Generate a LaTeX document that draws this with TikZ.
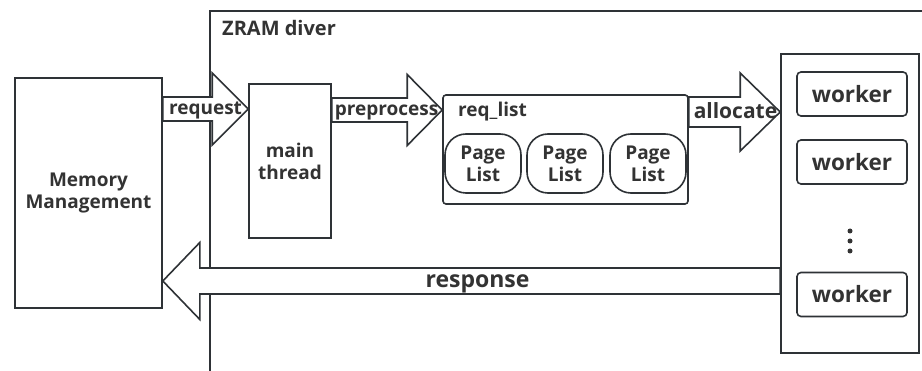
\documentclass[tikz,border=0pt]{standalone}
\usepackage{fontspec}
\setmainfont{Open Sans}
\usetikzlibrary{calc}
\definecolor{ink}{HTML}{2E3236}
\definecolor{txt}{HTML}{333333}

% horizontal block arrow: #1 start point, #2 tip point,
% #3 half shaft width, #4 half head width, #5 head length
\newcommand\blockarrow[5]{%
  \draw[bigarrow] let \p1=(#1), \p2=(#2), \n1={sign(\x2-\x1)*#5} in
    (\x1,\y1+#3) -- ({\x2-(\n1)},\y1+#3) -- ({\x2-(\n1)},\y1+#4) -- (\x2,\y1)
    -- ({\x2-(\n1)},\y1-#4) -- ({\x2-(\n1)},\y1-#3) -- (\x1,\y1-#3) -- cycle;}
\newcommand\fs[1]{\fontsize{#1}{22}\selectfont}

\begin{document}
\begin{tikzpicture}[x=1pt,y=-1pt,
  every node/.style={text=txt,font=\bfseries\fs{19}},
  box/.style={draw=ink,line width=1.6pt,fill=white,inner sep=0pt,align=center},
  bigarrow/.style={draw=ink,line width=1.6pt,fill=white,line join=miter},
  lbl/.style={inner sep=0pt},
  arrlbl/.style={inner sep=0pt,anchor=base}]
\useasboundingbox (0,0) rectangle (922,371);

% driver frame, running off the right and bottom
\draw[ink,line width=1.6pt] (922,11) -- (210,11) -- (210,371);
\node[lbl,anchor=west,font=\bfseries\fs{20}] (drv) at (222,28) {ZRAM diver};

% named boxes
\node[box,minimum width=147pt,minimum height=230pt] (mm) at (88.5,193)
  {Memory\\Management};
\node[box,minimum width=82pt,minimum height=154pt] (main) at (290,161)
  {main\\thread};
\node[box,rounded corners=3pt,minimum width=245pt,minimum height=109pt] (req) at (565.5,149.5) {};
\node[lbl,anchor=west] (reqlbl) at (458,112) {req\_list};
\foreach \i/\x in {1/483,2/565,3/648}
  \node[box,rounded corners=21pt,minimum width=76pt,minimum height=59pt] (pl\i) at (\x,163.5)
    {Page\\List};
\node[box,minimum width=138pt,minimum height=299pt] (wk) at (850,203.5) {};

% block arrows between the boxes
\blockarrow{mm.east |- 0,109}{main.west |- 0,109}{12pt}{36pt}{36pt}
\blockarrow{main.east |- 0,110}{req.west |- 0,110}{12pt}{35.5pt}{35pt}
\blockarrow{req.east |- 0,112}{wk.west |- 0,112}{15pt}{39pt}{40pt}
\blockarrow{wk.west |- 0,281}{mm.east |- 0,281}{13pt}{38.5pt}{37pt}
\node[arrlbl] (lreq) at (205.5,115) {request};
\node[arrlbl] (lpre) at (386.5,116) {preprocess};
\node[arrlbl,font=\bfseries\fs{21}] (lall) at (735.5,119) {allocate};
\node[arrlbl,font=\bfseries\fs{23}] (lres) at (477.5,288) {response};

% worker boxes
\foreach \i/\y in {1/94,2/162,3/294.5}
  \node[box,rounded corners=4pt,minimum width=110pt,minimum height=44pt,
        font=\bfseries\fs{22.5}] (w\i) at (852,\y) {worker};
\foreach \y in {231,241,251}
  \fill[txt] (850,\y) circle (2.5pt);
\end{tikzpicture}
\end{document}
